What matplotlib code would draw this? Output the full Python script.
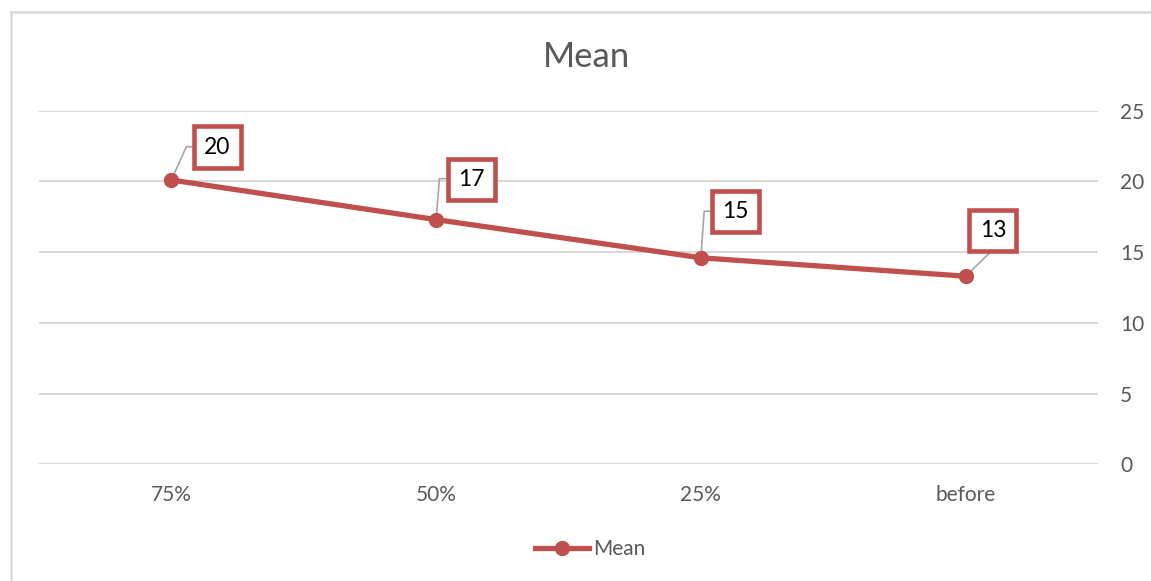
import matplotlib
matplotlib.use("Agg")
import matplotlib.pyplot as plt
from matplotlib.lines import Line2D

plt.rcParams['font.family'] = ['Lato', 'DejaVu Sans']

categories = ["75%", "50%", "25%", "before"]
mean_values = [20.1, 17.3, 14.6, 13.3]
series_name = "Mean"
y_ticks = [0, 5, 10, 15, 20, 25]

RED = "#C0504D"
GRID = "#D9D9D9"
TEXT = "#595959"

fig = plt.figure(figsize=(11.51, 5.81), dpi=100)
ax = fig.add_axes([39 / 1151, (581 - 464.3) / 581, (1098 - 39) / 1151, (464.3 - 110.7) / 581])

x = list(range(len(categories)))
ax.plot(x, mean_values, color=RED, lw=3.8, marker="o", markersize=10,
        solid_capstyle="round", zorder=4, label=series_name, clip_on=False)

ax.set_xlim(-0.5, len(categories) - 0.5)
ax.set_ylim(0, 25)
ax.set_yticks(y_ticks)
ax.set_xticks(x)
ax.set_xticklabels(categories)
ax.yaxis.tick_right()
ax.tick_params(axis="both", length=0, labelsize=15, labelcolor=TEXT)
ax.tick_params(axis="y", pad=16)
ax.tick_params(axis="x", pad=15)
ax.grid(axis="y", color=GRID, lw=1.5)
ax.set_axisbelow(True)
for s in ax.spines.values():
    s.set_visible(False)

fig.text(587 / 1151, 1 - 57 / 581, "Mean", ha="center", va="center",
         fontsize=25, color=TEXT)

# data label placement: box centre offset and leader path, in pixels (x right, y up)
label_offsets = [(45.8, 32.7), (35.3, 40.0), (34.8, 46.3), (27.3, 45.5)]
leader_paths = [
    [(0, 0), (15, 33.3), (23.3, 33.3)],
    [(0, 0), (3.3, 41), (12.3, 41)],
    [(0, 0), (3.3, 46.6), (12.3, 46.6)],
    [(0, 0), (25, 24.3)],
]

fig.canvas.draw()
inv = ax.transData.inverted()
for xi, v, off, path in zip(x, mean_values, label_offsets, leader_paths):
    px, py = ax.transData.transform((xi, v))
    pts = [inv.transform((px + dx, py + dy)) for dx, dy in path]
    ax.plot([p[0] for p in pts], [p[1] for p in pts], color="#A6A6A6", lw=1.2,
            zorder=3, clip_on=False)
    ax.annotate(f"{v:.0f}", xy=(xi, v), xytext=off, textcoords="offset pixels",
                ha="center", va="center", fontsize=16.5, color="black", zorder=5,
                bbox=dict(boxstyle="square,pad=0.45", fc="white", ec=RED, lw=3.3))

handle = Line2D([], [], color=RED, lw=3.8, marker="o", markersize=10)
fig.legend([handle], [series_name], loc="center",
           bbox_to_anchor=(590 / 1151, 1 - 549 / 581), frameon=False,
           fontsize=15, labelcolor=TEXT, handlelength=2.6, handletextpad=0.2)

# chart area border
fig.add_artist(Line2D([11 / 1151, 11 / 1151], [0, 1 - 12 / 581], color=GRID, lw=1.8))
fig.add_artist(Line2D([11 / 1151, 1], [1 - 12 / 581, 1 - 12 / 581], color=GRID, lw=1.8))

fig.savefig("out.png", dpi=100, facecolor="white")
